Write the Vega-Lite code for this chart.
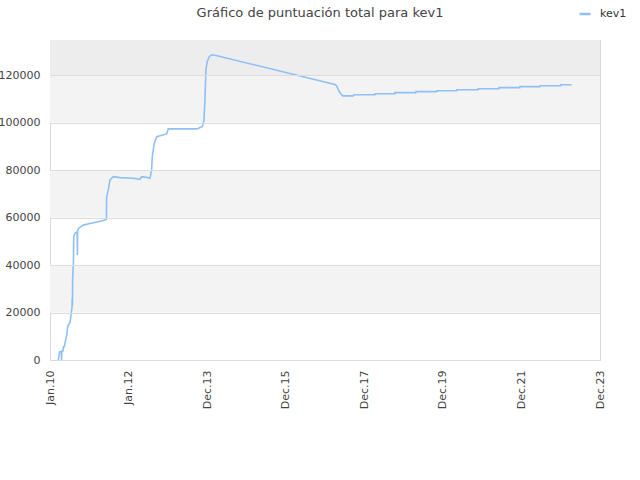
{
  "$schema": "https://vega.github.io/schema/vega-lite/v6.json",
  "width": 550,
  "height": 320,
  "autosize": "none",
  "padding": {"left": 50, "top": 40, "right": 40, "bottom": 120},
  "background": "white",
  "config": {
    "font": "DejaVu Sans",
    "view": {"stroke": "#d8d8d8", "strokeWidth": 1}
  },
  "title": {
    "text": "Gráfico de puntuación total para kev1",
    "fontSize": 13,
    "fontWeight": "normal",
    "color": "#444444",
    "anchor": "middle",
    "dx": -5,
    "offset": -13
  },
  "layer": [
    {
      "data": {"values": [
        {"y0": 20000, "y1": 40000},
        {"y0": 60000, "y1": 80000},
        {"y0": 100000, "y1": 120000}
      ]},
      "mark": {"type": "rect", "fill": "#f3f3f3"},
      "encoding": {
        "y": {"field": "y0", "type": "quantitative", "scale": {"domain": [0, 134737], "nice": false}},
        "y2": {"field": "y1"}
      }
    },
    {
      "data": {"values": [{"y0": 120000, "y1": 134737}]},
      "mark": {"type": "rect", "fill": "#ededed"},
      "encoding": {
        "y": {"field": "y0", "type": "quantitative"},
        "y2": {"field": "y1"}
      }
    },
    {
      "data": {"values": [
        {"fecha": "2010-03-23", "puntos": 0},
        {"fecha": "2010-04-05", "puntos": 3500},
        {"fecha": "2010-04-20", "puntos": 3500},
        {"fecha": "2010-04-22", "puntos": 0},
        {"fecha": "2010-04-25", "puntos": 3800},
        {"fecha": "2010-05-05", "puntos": 3800},
        {"fecha": "2010-05-10", "puntos": 5600},
        {"fecha": "2010-05-17", "puntos": 5600},
        {"fecha": "2010-06-09", "puntos": 10500},
        {"fecha": "2010-06-18", "puntos": 14300},
        {"fecha": "2010-07-09", "puntos": 15700},
        {"fecha": "2010-07-19", "puntos": 19000},
        {"fecha": "2010-07-28", "puntos": 22000},
        {"fecha": "2010-07-30", "puntos": 26000},
        {"fecha": "2010-08-01", "puntos": 23000},
        {"fecha": "2010-08-03", "puntos": 34500},
        {"fecha": "2010-08-10", "puntos": 40800},
        {"fecha": "2010-08-13", "puntos": 51900},
        {"fecha": "2010-08-25", "puntos": 53400},
        {"fecha": "2010-09-14", "puntos": 54000},
        {"fecha": "2010-09-16", "puntos": 44200},
        {"fecha": "2010-09-18", "puntos": 54500},
        {"fecha": "2010-09-26", "puntos": 55400},
        {"fecha": "2010-11-09", "puntos": 56800},
        {"fecha": "2011-01-11", "puntos": 57500},
        {"fecha": "2011-04-29", "puntos": 58500},
        {"fecha": "2011-06-12", "puntos": 59200},
        {"fecha": "2011-06-14", "puntos": 68500},
        {"fecha": "2011-06-29", "puntos": 71600},
        {"fecha": "2011-07-15", "puntos": 75800},
        {"fecha": "2011-08-14", "puntos": 77200},
        {"fecha": "2011-10-15", "puntos": 76800},
        {"fecha": "2012-02-16", "puntos": 76500},
        {"fecha": "2012-04-18", "puntos": 76100},
        {"fecha": "2012-05-04", "puntos": 77200},
        {"fecha": "2012-06-19", "puntos": 76900},
        {"fecha": "2012-07-20", "puntos": 76500},
        {"fecha": "2012-08-04", "puntos": 80000},
        {"fecha": "2012-08-10", "puntos": 85600},
        {"fecha": "2012-08-28", "puntos": 91200},
        {"fecha": "2012-09-20", "puntos": 94000},
        {"fecha": "2012-12-21", "puntos": 95200},
        {"fecha": "2013-01-05", "puntos": 97300},
        {"fecha": "2013-09-25", "puntos": 97300},
        {"fecha": "2013-10-10", "puntos": 97500},
        {"fecha": "2013-11-10", "puntos": 98200},
        {"fecha": "2013-11-20", "puntos": 98500},
        {"fecha": "2013-12-02", "puntos": 101000},
        {"fecha": "2013-12-05", "puntos": 103900},
        {"fecha": "2013-12-11", "puntos": 108800},
        {"fecha": "2013-12-17", "puntos": 117900},
        {"fecha": "2013-12-20", "puntos": 122100},
        {"fecha": "2014-01-01", "puntos": 125600},
        {"fecha": "2014-01-20", "puntos": 127700},
        {"fecha": "2014-02-11", "puntos": 128500},
        {"fecha": "2014-03-14", "puntos": 128300},
        {"fecha": "2017-03-30", "puntos": 116000},
        {"fecha": "2017-04-14", "puntos": 115500},
        {"fecha": "2017-05-08", "puntos": 113000},
        {"fecha": "2017-06-09", "puntos": 111200},
        {"fecha": "2017-09-15", "puntos": 111200},
        {"fecha": "2017-09-22", "puntos": 111700},
        {"fecha": "2018-04-04", "puntos": 111700},
        {"fecha": "2018-04-05", "puntos": 112100},
        {"fecha": "2018-10-06", "puntos": 112100},
        {"fecha": "2018-10-07", "puntos": 112600},
        {"fecha": "2019-04-19", "puntos": 112600},
        {"fecha": "2019-04-20", "puntos": 113000},
        {"fecha": "2019-10-28", "puntos": 113000},
        {"fecha": "2019-10-29", "puntos": 113400},
        {"fecha": "2020-04-30", "puntos": 113400},
        {"fecha": "2020-05-01", "puntos": 113800},
        {"fecha": "2020-11-16", "puntos": 113800},
        {"fecha": "2020-11-17", "puntos": 114200},
        {"fecha": "2021-05-27", "puntos": 114200},
        {"fecha": "2021-05-28", "puntos": 114700},
        {"fecha": "2021-12-08", "puntos": 114700},
        {"fecha": "2021-12-09", "puntos": 115100},
        {"fecha": "2022-06-11", "puntos": 115100},
        {"fecha": "2022-06-12", "puntos": 115500},
        {"fecha": "2022-12-22", "puntos": 115500},
        {"fecha": "2022-12-23", "puntos": 115900},
        {"fecha": "2023-04-01", "puntos": 115900}
      ]},
      "mark": {"type": "line", "strokeWidth": 1.6, "interpolate": "linear"},
      "encoding": {
        "x": {
          "field": "fecha",
          "type": "temporal",
          "title": null,
          "scale": {"domain": [
            {"year": 2010, "month": 1, "date": 5},
            {"year": 2023, "month": 12, "date": 21}
          ]},
          "axis": {
            "values": [
              {"year": 2010, "month": 1, "date": 5},
              {"year": 2012, "month": 1, "date": 3},
              {"year": 2013, "month": 12, "date": 31},
              {"year": 2015, "month": 12, "date": 29},
              {"year": 2017, "month": 12, "date": 27},
              {"year": 2019, "month": 12, "date": 25},
              {"year": 2021, "month": 12, "date": 23},
              {"year": 2023, "month": 12, "date": 21}
            ],
            "format": "%b.%y",
            "labelAngle": -90,
            "labelFontSize": 11,
            "labelColor": "#444444",
            "labelPadding": 10,
            "grid": false,
            "domain": false,
            "ticks": false
          }
        },
        "y": {
          "field": "puntos",
          "type": "quantitative",
          "title": null,
          "axis": {
            "values": [0, 20000, 40000, 60000, 80000, 100000, 120000],
            "format": "d",
            "labelFontSize": 11,
            "labelColor": "#444444",
            "labelPadding": 10,
            "gridColor": "#dcdcdc",
            "domain": false,
            "ticks": false,
            "zindex": 1
          }
        },
        "color": {
          "datum": "kev1",
          "type": "nominal",
          "scale": {"range": ["#8ec0f5"]},
          "legend": {
            "title": null,
            "orient": "none",
            "legendX": 528,
            "legendY": -33,
            "symbolType": "stroke",
            "symbolStrokeWidth": 2.5,
            "symbolSize": 120,
            "labelOffset": 8,
            "labelFontSize": 11,
            "labelColor": "#333333"
          }
        }
      }
    }
  ]
}
